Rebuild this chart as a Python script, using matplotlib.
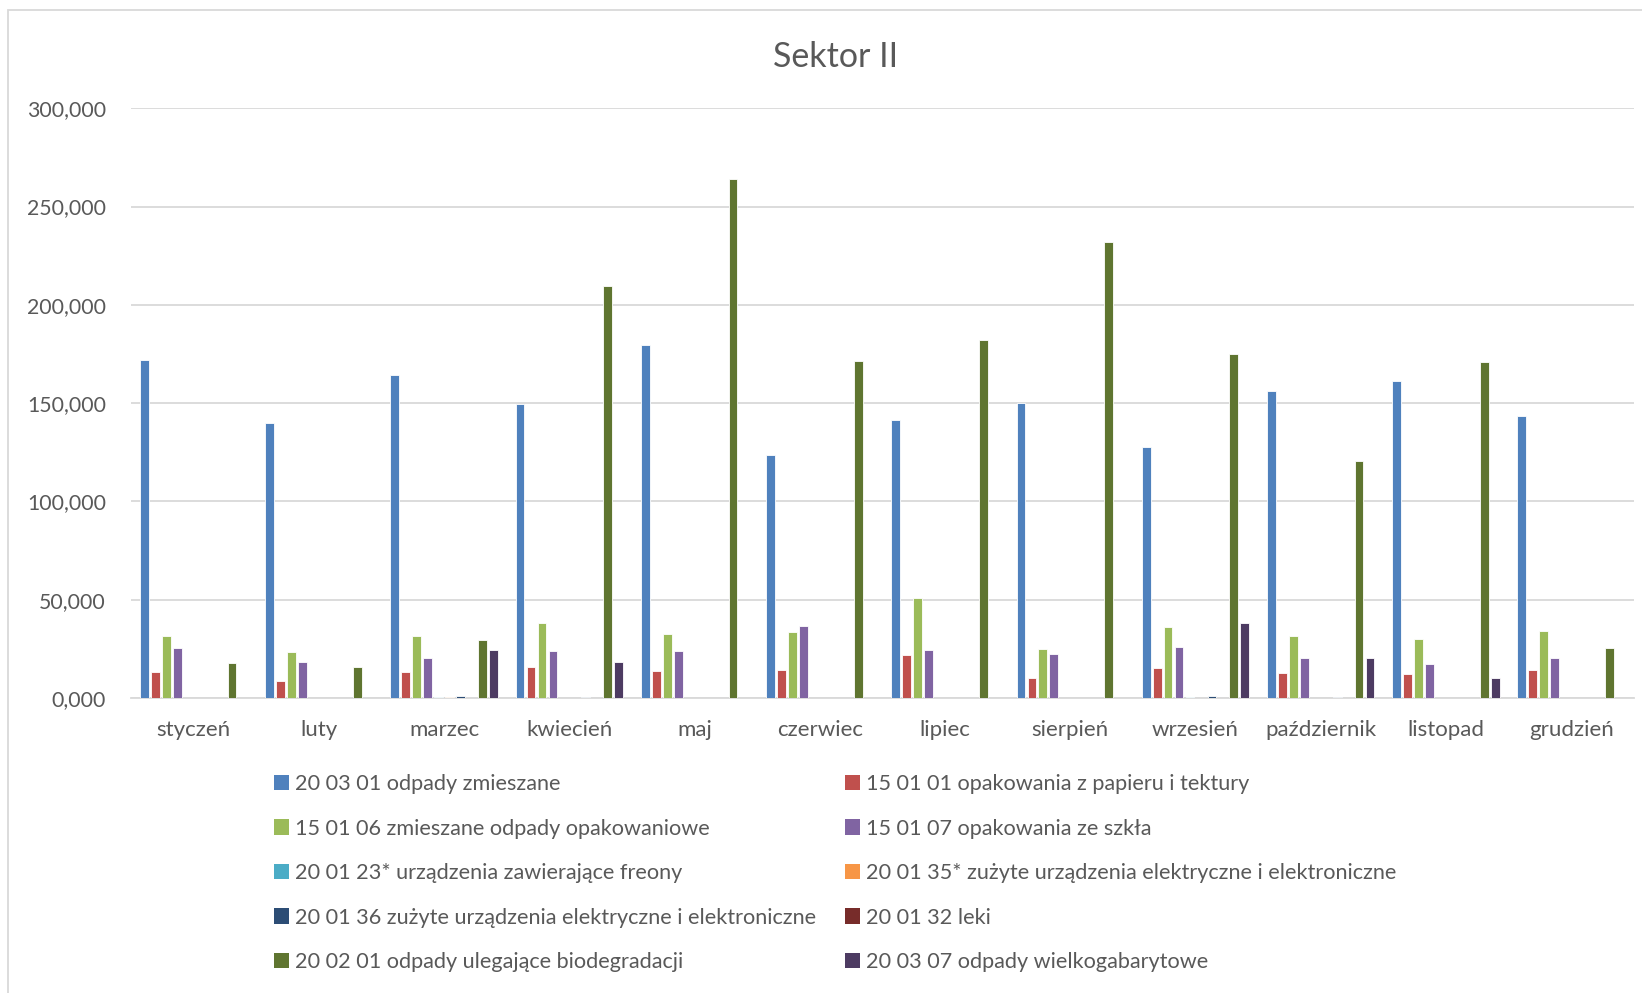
import matplotlib.pyplot as plt
import numpy as np
from matplotlib.patches import Patch, Rectangle

plt.rcParams['font.family'] = ['Lato', 'DejaVu Sans']

# Dane (Mg)
miesiace = ["styczeń", "luty", "marzec", "kwiecień", "maj", "czerwiec", "lipiec",
            "sierpień", "wrzesień", "październik", "listopad", "grudzień"]

serie = [
    "20 03 01 odpady zmieszane",
    "15 01 01 opakowania z papieru i tektury",
    "15 01 06 zmieszane odpady opakowaniowe",
    "15 01 07 opakowania ze szkła",
    "20 01 23* urządzenia zawierające freony",
    "20 01 35* zużyte urządzenia elektryczne i elektroniczne",
    "20 01 36 zużyte urządzenia elektryczne i elektroniczne",
    "20 01 32 leki",
    "20 02 01 odpady ulegające biodegradacji",
    "20 03 07 odpady wielkogabarytowe",
]

zmieszane = [172.0, 140.0, 164.5, 149.8, 179.5, 123.8, 141.2, 150.0, 127.8, 156.0, 161.5, 143.5]
papier = [13.2, 8.8, 13.2, 15.8, 13.6, 14.1, 21.8, 10.1, 15.1, 13.0, 12.4, 14.4]
opakowaniowe = [31.6, 23.4, 31.6, 38.1, 32.5, 33.8, 51.0, 24.9, 36.2, 31.6, 30.1, 34.2]
szklo = [25.3, 18.2, 20.6, 24.0, 23.9, 36.6, 24.4, 22.5, 25.8, 20.3, 17.2, 20.3]
freony = [0, 0, 0.3, 0, 0, 0, 0, 0, 0.3, 0, 0, 0]
elektro_35 = [0, 0, 0.4, 0, 0, 0, 0, 0, 0, 0, 0, 0]
elektro_36 = [0, 0, 1.2, 0.4, 0, 0, 0, 0, 1.2, 0.8, 0, 0]
leki = [0, 0, 0, 0, 0, 0, 0, 0, 0, 0, 0, 0]
bio = [17.8, 15.6, 29.5, 209.8, 264.0, 171.5, 182.0, 232.0, 175.2, 120.8, 170.8, 25.4]
wielkogabarytowe = [0, 0, 24.4, 18.2, 0, 0, 0, 0, 38.1, 20.3, 10.0, 0]

wartosci = [zmieszane, papier, opakowaniowe, szklo, freony, elektro_35,
            elektro_36, leki, bio, wielkogabarytowe]

kolory = ["#4F81BD", "#C0504D", "#9BBB59", "#8064A2", "#4BACC6",
          "#F79646", "#2C4D75", "#772C2A", "#5F7530", "#4D3B62"]

tekst = "#595959"
siatka = "#D9D9D9"

fig = plt.figure(figsize=(16.42, 9.93), dpi=100)
ax = fig.add_axes([0.0798, 0.297, 0.9152, 0.594])

x = np.arange(len(miesiace))
krok = 0.0875
szer = 0.07
for i, (vals, kol) in enumerate(zip(wartosci, kolory)):
    ax.bar(x + (i - 4.5) * krok, vals, width=szer, color=kol,
           edgecolor="white", linewidth=0.6, zorder=3)

ax.set_xlim(-0.5, len(miesiace) - 0.5)
ax.set_ylim(0, 300)
ax.set_yticks(np.arange(0, 301, 50))
ax.set_yticklabels([f"{v:.3f}".replace(".", ",") for v in np.arange(0, 301, 50)])
ax.set_xticks(x)
ax.set_xticklabels(miesiace)
ax.tick_params(axis="both", length=0, colors=tekst)
ax.tick_params(axis="x", pad=16, labelsize=16)
ax.tick_params(axis="y", pad=18, labelsize=15.3)
ax.grid(axis="y", color=siatka, linewidth=1.3, zorder=0)
for s in ["top", "right", "left"]:
    ax.spines[s].set_visible(False)
ax.spines["bottom"].set_color(siatka)
ax.spines["bottom"].set_linewidth(1.3)

fig.text(0.509, 0.943, "Sektor II", ha="center", va="center", fontsize=24.5, color=tekst)

# Legenda w dwóch kolumnach
uchwyty = [Patch(facecolor=k, edgecolor="none", label=s) for s, k in zip(serie, kolory)]
kolejnosc = [0, 2, 4, 6, 8, 1, 3, 5, 7, 9]
fig.legend([uchwyty[i] for i in kolejnosc], [serie[i] for i in kolejnosc],
           ncol=2, loc="upper left", bbox_to_anchor=(0.155, 0.24),
           frameon=False, fontsize=15.6, labelcolor=tekst,
           handlelength=0.7, handleheight=0.7, handletextpad=0.25,
           labelspacing=1.13, columnspacing=1.35)

# Ramka wykresu
fig.patches.append(Rectangle((8 / 1642, -0.01), 1.02, 1 - 10 / 993 + 0.01,
                             transform=fig.transFigure, fill=False,
                             edgecolor=siatka, linewidth=1.3))

fig.savefig("out.png", dpi=100)
